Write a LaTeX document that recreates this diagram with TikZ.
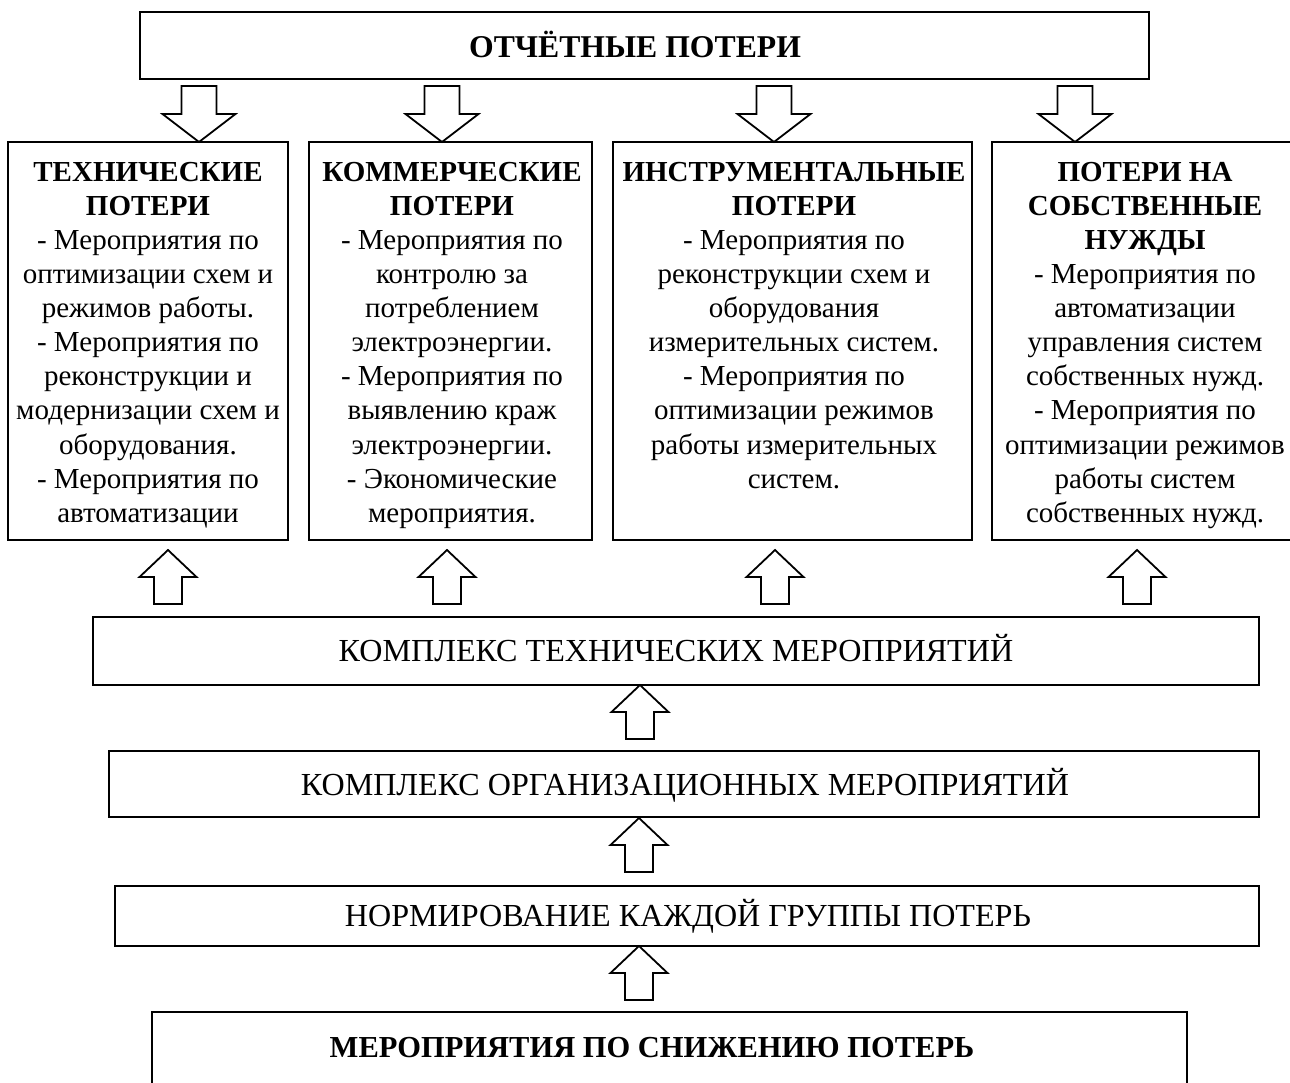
\documentclass[tikz,border=0pt]{standalone}
\usepackage{fontspec}
\setmainfont{Liberation Serif}
\begin{document}
\begin{tikzpicture}[x=1pt,y=-1pt,
  box/.style={draw, line width=2.4pt, inner sep=0pt},
  txt/.style={align=center, inner sep=0pt, anchor=north, font=\fontsize{29}{34.1}\selectfont},
  one/.style={inner sep=0pt, anchor=base, font=\fontsize{32.1}{38}\selectfont},
  arr/.style={draw, line width=1.8pt, fill=white, line join=miter},
  pics/downarr/.style={code={\draw[arr] (-17.5,-56) -- (17.5,-56) -- (17.5,-28) -- (36.5,-28) -- (0,0) -- (-36.5,-28) -- (-17.5,-28) -- cycle;}},
  pics/uparr/.style={code={\draw[arr] (-14,54) -- (14,54) -- (14,27) -- (28.5,27) -- (0,0) -- (-28.5,27) -- (-14,27) -- cycle;}}
]
\useasboundingbox (0,0) rectangle (1290,1082);
\clip (0,0) rectangle (1290,1082);

% boxes
\node[box, minimum width=1009, minimum height=67] (top) at (644.5,45.5) {};
\node[box, minimum width=280, minimum height=398] (b1) at (148,341) {};
\node[box, minimum width=283, minimum height=398] (b2) at (450.5,341) {};
\node[box, minimum width=359, minimum height=398] (b3) at (792.5,341) {};
\node[box, minimum width=318, minimum height=398] (b4) at (1151,341) {};
\node[box, minimum width=1166, minimum height=68] (tech) at (676,651) {};
\node[box, minimum width=1150, minimum height=66] (org) at (684,784) {};
\node[box, minimum width=1144, minimum height=60] (norm) at (687,916) {};
\node[box, minimum width=1035, minimum height=90] (bot) at (669.5,1057) {};

% texts
\node[one, font=\fontsize{31.7}{38}\selectfont] (ttop) at (635,57.5) {\textbf{ОТЧЁТНЫЕ ПОТЕРИ}};
\node[txt] (t1) at (148,155) {\rule{0pt}{26pt}\textbf{ТЕХНИЧЕСКИЕ}\\ \textbf{ПОТЕРИ}\\ - Мероприятия по\\ оптимизации схем и\\ режимов работы.\\ - Мероприятия по\\ реконструкции и\\ модернизации схем и\\ оборудования.\\ - Мероприятия по\\ автоматизации};
\node[txt] (t2) at (452,155) {\rule{0pt}{26pt}\textbf{КОММЕРЧЕСКИЕ}\\ \textbf{ПОТЕРИ}\\ - Мероприятия по\\ контролю за\\ потреблением\\ электроэнергии.\\ - Мероприятия по\\ выявлению краж\\ электроэнергии.\\ - Экономические\\ мероприятия.};
\node[txt] (t3) at (794,155) {\rule{0pt}{26pt}\textbf{ИНСТРУМЕНТАЛЬНЫЕ}\\ \textbf{ПОТЕРИ}\\ - Мероприятия по\\ реконструкции схем и\\ оборудования\\ измерительных систем.\\ - Мероприятия по\\ оптимизации режимов\\ работы измерительных\\ систем.};
\node[txt] (t4) at (1145,155) {\rule{0pt}{26pt}\textbf{ПОТЕРИ НА}\\ \textbf{СОБСТВЕННЫЕ}\\ \textbf{НУЖДЫ}\\ - Мероприятия по\\ автоматизации\\ управления систем\\ собственных нужд.\\ - Мероприятия по\\ оптимизации режимов\\ работы систем\\ собственных нужд.};
\node[one] (ttech) at (676,661.5) {КОМПЛЕКС ТЕХНИЧЕСКИХ МЕРОПРИЯТИЙ};
\node[one] (torg) at (685,795.5) {КОМПЛЕКС ОРГАНИЗАЦИОННЫХ МЕРОПРИЯТИЙ};
\node[one] (tnorm) at (688,926.5) {НОРМИРОВАНИЕ КАЖДОЙ ГРУППЫ ПОТЕРЬ};
\node[one, font=\fontsize{30.5}{36}\selectfont] (tbot) at (652,1057) {\textbf{МЕРОПРИЯТИЯ ПО СНИЖЕНИЮ ПОТЕРЬ}};

% block arrows
\pic at (199,142) {downarr};
\pic at (442,142) {downarr};
\pic at (774,142) {downarr};
\pic at (1075,142) {downarr};
\pic at (168,550) {uparr};
\pic at (447,550) {uparr};
\pic at (775,550) {uparr};
\pic at (1137,550) {uparr};
\pic at (640,685) {uparr};
\pic at (639,818) {uparr};
\pic at (639,946) {uparr};
\end{tikzpicture}
\end{document}
